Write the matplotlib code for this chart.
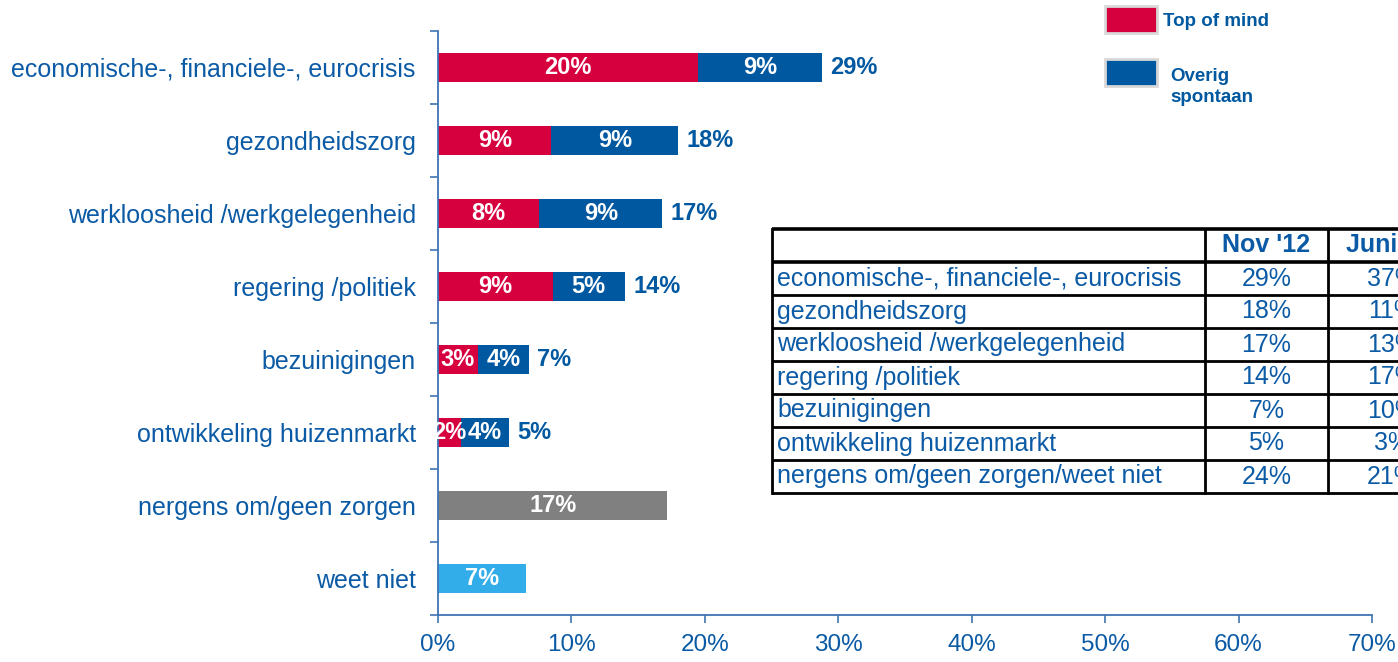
import matplotlib
matplotlib.use("Agg")
import matplotlib.pyplot as plt
from matplotlib.patches import Rectangle

plt.rcParams['font.family'] = ['Liberation Sans', 'DejaVu Sans']

# ---------------- data ----------------
categories = ["economische-, financiele-, eurocrisis", "gezondheidszorg",
              "werkloosheid /werkgelegenheid", "regering /politiek",
              "bezuinigingen", "ontwikkeling huizenmarkt",
              "nergens om/geen zorgen", "weet niet"]
top_of_mind = [19.5, 8.5, 7.6, 8.6, 3.0, 1.7]
overig_spontaan = [9.3, 9.5, 9.2, 5.4, 3.8, 3.6]
top_labels = ["20%", "9%", "8%", "9%", "3%", "2%"]
overig_labels = ["9%", "9%", "9%", "5%", "4%", "4%"]
total_labels = ["29%", "18%", "17%", "14%", "7%", "5%"]
nergens_value = 17.2
nergens_label = "17%"
weetniet_value = 6.6
weetniet_label = "7%"
xticks = [0, 10, 20, 30, 40, 50, 60, 70]
xtick_labels = ["0%", "10%", "20%", "30%", "40%", "50%", "60%", "70%"]

table_header = ["", "Nov '12", "Juni '12"]
table_rows = ["economische-, financiele-, eurocrisis", "gezondheidszorg",
              "werkloosheid /werkgelegenheid", "regering /politiek",
              "bezuinigingen", "ontwikkeling huizenmarkt",
              "nergens om/geen zorgen/weet niet"]
table_nov12 = ["29%", "18%", "17%", "14%", "7%", "5%", "24%"]
table_juni = ["37%", "11%", "13%", "17%", "10%", "3%", "21%"]

legend_labels = ["Top of mind", "Overig\nspontaan"]

# ---------------- style ----------------
RED = "#D7003F"
BLUE = "#0058A0"
GRAY = "#808080"
LIGHTBLUE = "#33ADEA"
TXT = "#0B5AA5"
AXC = "#3F74B4"

W, H = 1398, 662
fig = plt.figure(figsize=(W / 100, H / 100), dpi=100)
ax = fig.add_axes([438 / W, 1 - 615 / H, (1372 - 438) / W, (615 - 31) / H])

bh = 0.41
n = len(top_of_mind)
ypos = list(range(len(categories)))
ax.barh(ypos[:n], top_of_mind, height=bh, color=RED)
ax.barh(ypos[:n], overig_spontaan, left=top_of_mind, height=bh, color=BLUE)
ax.barh([ypos[6]], [nergens_value], height=bh, color=GRAY)
ax.barh([ypos[7]], [weetniet_value], height=bh, color=LIGHTBLUE)

lab_kw = dict(color="white", fontsize=17, fontweight="bold", va="center", ha="center")
for i in range(n):
    ax.text(top_of_mind[i] / 2, ypos[i], top_labels[i], **lab_kw)
    ax.text(top_of_mind[i] + overig_spontaan[i] / 2, ypos[i], overig_labels[i], **lab_kw)
    ax.annotate(total_labels[i], (top_of_mind[i] + overig_spontaan[i], ypos[i]),
                xytext=(6, 0), textcoords="offset points", color=BLUE,
                fontsize=17, fontweight="bold", va="center", ha="left")
ax.text(nergens_value / 2, ypos[6], nergens_label, **lab_kw)
ax.text(weetniet_value / 2, ypos[7], weetniet_label, **lab_kw)

ax.set_xlim(0, 70)
ax.set_ylim(len(categories) - 0.5, -0.5)
ax.set_xticks(xticks)
ax.set_xticklabels(xtick_labels)
ax.set_yticks(ypos)
ax.set_yticklabels(categories)
ax.set_yticks([k + 0.5 for k in range(-1, len(categories))], minor=True)
ax.tick_params(axis="y", which="major", length=0, pad=16, labelsize=18, labelcolor=TXT)
ax.tick_params(axis="y", which="minor", length=6, width=1.2, color=AXC)
ax.tick_params(axis="x", length=6, width=1.2, color=AXC, pad=8, labelsize=17.5, labelcolor=TXT)
for s in ["top", "right"]:
    ax.spines[s].set_visible(False)
for s in ["left", "bottom"]:
    ax.spines[s].set_color(AXC)
    ax.spines[s].set_linewidth(1.3)

# ---------------- overlay (legend + table) in pixel coords ----------------
ov = fig.add_axes([0, 0, 1, 1], zorder=5)
ov.set_xlim(0, W)
ov.set_ylim(H, 0)
ov.axis("off")
ov.patch.set_alpha(0)

# legend
leg_colors = [RED, BLUE]
leg_y = [6, 59]
for c, y0, lab in zip(leg_colors, leg_y, legend_labels):
    ov.add_patch(Rectangle((1105, y0), 52, 27, facecolor=c, edgecolor="#D8D8D8", lw=2))
ov.text(1163, 21, legend_labels[0], color=BLUE, fontsize=13.5, fontweight="bold",
        va="center", ha="left")
ov.text(1170, 87, legend_labels[1], color=BLUE, fontsize=13.5, fontweight="bold",
        va="center", ha="left", linespacing=1.25)

# table
tx0, ty0, row_h = 772, 229, 33
col_x = [772, 1205, 1328, 1460]
nrows = len(table_rows) + 1
ov.add_patch(Rectangle((tx0, ty0), col_x[-1] - tx0, row_h * nrows,
                       facecolor="white", edgecolor="none"))
for r in range(nrows + 1):
    y = ty0 + r * row_h
    ov.plot([tx0, col_x[-1]], [y, y], color="black", lw=2.6 if r <= 1 else 2.0,
            solid_capstyle="butt")
for cx in col_x[:3]:
    ov.plot([cx, cx], [ty0, ty0 + row_h * nrows], color="black", lw=2.0)

ov.text((col_x[1] + col_x[2]) / 2, ty0 + row_h / 2, table_header[1], color=TXT,
        fontsize=18, fontweight="bold", ha="center", va="center")
ov.text(1346, ty0 + row_h / 2, table_header[2], color=TXT,
        fontsize=18, fontweight="bold", ha="left", va="center")
for i, (lab, a, b) in enumerate(zip(table_rows, table_nov12, table_juni)):
    yc = ty0 + (i + 1.5) * row_h
    ov.text(tx0 + 5, yc, lab, color=TXT, fontsize=18, ha="left", va="center")
    ov.text((col_x[1] + col_x[2]) / 2, yc, a, color=TXT, fontsize=18, ha="center", va="center")
    ov.text(1392, yc, b, color=TXT, fontsize=18, ha="center", va="center")

fig.savefig("out.png", dpi=100)
